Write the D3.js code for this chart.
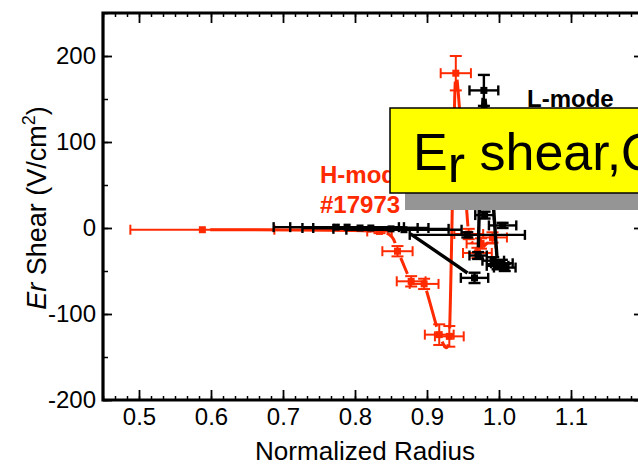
<!DOCTYPE html>
<html><head><meta charset="utf-8">
<script src="https://cdn.jsdelivr.net/npm/d3@7"></script>
<style>
body{margin:0;background:#fff;}
svg{display:block;font-family:"Liberation Sans",Arial,Helvetica,sans-serif;}
</style>
</head><body>
<svg id="chart" width="638" height="465"></svg>
<script>
// ---- data ----
const xTicks = [0.5, 0.6, 0.7, 0.8, 0.9, 1.0, 1.1];
const xTickLabels = ["0.5", "0.6", "0.7", "0.8", "0.9", "1.0", "1.1"];
const yTicks = [-200, -100, 0, 100, 200];
const yTickLabels = ["-200", "-100", "0", "100", "200"];

// H-mode #17973 (red), profile in path order
const hX    = [0.588, 0.834, 0.859, 0.878, 0.896, 0.917, 0.931, 0.940, 0.958, 0.975, 0.970, 0.991];
const hY    = [-2, -4, -27, -62, -65, -124, -126, 180, -7, -18, -29, -11];
const hXErr = [0.100, 0.017, 0.021, 0.020, 0.020, 0.020, 0.020, 0.021, 0.020, 0.020, 0.020, 0.020];
const hYErr = [0, 2, 6, 6, 6, 12, 12, 20, 6, 6, 6, 6];

// L-mode (black), inner profile in path order
const lX    = [0.774, 0.789, 0.807, 0.822, 0.850, 0.868, 0.966];
const lY    = [1, 1, 0, 0, -1, -2, -58];
const lXErr = [0.087, 0.079, 0.080, 0.080, 0.080, 0.080, 0.019];
const lYErr = [0, 0, 0, 0, 0, 0, 6];
// L-mode (black), edge profile in path order
const lXb    = [0.998, 0.979, 0.971];
const lYb    = [-44, 160, -32];
const lXErrb = [0.015, 0.020, 0.012];
const lYErrb = [4, 18, 4];
// L-mode (black), further points without connecting line
const lX2    = [0.956, 0.992, 1.004, 1.008, 0.980, 1.005];
const lY2    = [-8, -38, -41, -46, 15, 3];
const lXErr2 = [0.080, 0.015, 0.015, 0.015, 0.013, 0.019];
const lYErr2 = [3, 4, 4, 4, 4, 3];

const xLabel = "Normalized Radius";
const lModeLabel = "L-mode";
const hModeLabel = ["H-mode", "#17973"];

// ---- layout ----
const svg = d3.select("#chart");
const L = 103, R = 643, T = 13, B = 400;
const x = d3.scaleLinear().domain([0.45, 1.2]).range([L, R]);
const y = d3.scaleLinear().domain([-200, 250]).range([B, T]);

const minorX = d3.range(0, 46).map(i => 0.45 + i * (0.1 / 6)).filter(v => v < 1.2);
const minorY = d3.range(-200, 251, 50);

function styleAxis(g, w) {
  g.select(".domain").remove();
  g.selectAll(".tick line").attr("stroke", "#000").attr("stroke-width", w);
}
const FONT = "Liberation Sans, Arial, sans-serif";

// bottom axis
svg.append("g").attr("transform", `translate(0,${B})`)
  .call(d3.axisBottom(x).tickValues(minorX).tickSize(-4).tickFormat(""))
  .call(g => styleAxis(g, 1.5));
svg.append("g").attr("transform", `translate(0,${B})`)
  .call(d3.axisBottom(x).tickValues(xTicks).tickSize(-10).tickPadding(8)
    .tickFormat((d, i) => xTickLabels[i]))
  .call(g => styleAxis(g, 1.8))
  .call(g => g.selectAll("text").attr("font-size", 24).attr("fill", "#000").attr("font-family", FONT));
// top axis
svg.append("g").attr("transform", `translate(0,${T})`)
  .call(d3.axisTop(x).tickValues(minorX).tickSize(-4).tickFormat(""))
  .call(g => styleAxis(g, 1.5));
svg.append("g").attr("transform", `translate(0,${T})`)
  .call(d3.axisTop(x).tickValues(xTicks).tickSize(-10).tickFormat(""))
  .call(g => styleAxis(g, 1.8));
// left axis
svg.append("g").attr("transform", `translate(${L},0)`)
  .call(d3.axisLeft(y).tickValues(minorY).tickSize(-5).tickFormat(""))
  .call(g => styleAxis(g, 1.5));
svg.append("g").attr("transform", `translate(${L},0)`)
  .call(d3.axisLeft(y).tickValues(yTicks).tickSize(-9).tickPadding(7)
    .tickFormat((d, i) => yTickLabels[i]))
  .call(g => styleAxis(g, 1.8))
  .call(g => g.selectAll("text").attr("font-size", 24).attr("fill", "#000").attr("font-family", FONT));
// right axis
svg.append("g").attr("transform", `translate(${R},0)`)
  .call(d3.axisRight(y).tickValues(minorY).tickSize(-5).tickFormat(""))
  .call(g => styleAxis(g, 1.5));
svg.append("g").attr("transform", `translate(${R},0)`)
  .call(d3.axisRight(y).tickValues(yTicks).tickSize(-9).tickFormat(""))
  .call(g => styleAxis(g, 1.8));

// frame
svg.append("path")
  .attr("d", `M${L},${T}H${R}V${B}H${L}Z`)
  .attr("fill", "none").attr("stroke", "#000").attr("stroke-width", 3.2);

// axis titles
svg.append("text").attr("x", 365).attr("y", 460).attr("text-anchor", "middle")
  .attr("font-size", 26).attr("textLength", 220).attr("lengthAdjust", "spacingAndGlyphs")
  .text(xLabel);
const yl = svg.append("text").attr("transform", "translate(46,208) rotate(-90)")
  .attr("text-anchor", "middle").attr("font-size", 27);
yl.append("tspan").attr("font-style", "italic").text("Er");
yl.append("tspan").text(" Shear (V/cm");
yl.append("tspan").attr("dy", -11).attr("font-size", 18).text("2");
yl.append("tspan").attr("dy", 11).text(")");

// ---- series drawing ----
const lineGen = d3.line().curve(d3.curveCardinal.tension(0.45));

function drawProfile(xs, ys, color, lw, gap) {
  const pts = xs.map((v, i) => [x(v), y(ys[i])]);
  const path = svg.append("path").attr("d", lineGen(pts))
    .attr("fill", "none").attr("stroke", color).attr("stroke-width", lw);
  // path length at each data point, then leave gaps around the markers
  const node = path.node(), total = node.getTotalLength();
  const lens = [];
  let start = 0;
  pts.forEach(p => {
    let best = start, bd = Infinity;
    for (let s = start; s <= total; s += 0.5) {
      const q = node.getPointAtLength(s);
      const d = Math.hypot(q.x - p[0], q.y - p[1]);
      if (d < bd) { bd = d; best = s; }
      if (d < 0.8) break;
    }
    lens.push(best); start = best;
  });
  const dash = [];
  let pos = 0;
  for (let i = 0; i < lens.length - 1; i++) {
    const a = lens[i] + gap, b = lens[i + 1] - gap;
    if (b > a) { dash.push(a - pos, b - a); pos = b; }
  }
  dash.push(total - pos + 10, 0);
  path.attr("stroke-dasharray", "0 " + dash.join(" "));
}

function drawPoints(xs, ys, xe, ye, color, ew) {
  const g = svg.append("g");
  xs.forEach((v, i) => {
    const cx = x(v), cy = y(ys[i]);
    const xl = x(v - xe[i]), xr = x(v + xe[i]);
    g.append("line").attr("x1", xl).attr("x2", xr).attr("y1", cy).attr("y2", cy)
      .attr("stroke", color).attr("stroke-width", ew);
    [xl, xr].forEach(cxp => g.append("line").attr("x1", cxp).attr("x2", cxp)
      .attr("y1", cy - 5).attr("y2", cy + 5).attr("stroke", color).attr("stroke-width", ew));
    if (ye[i] > 0) {
      const yt = y(ys[i] + ye[i]), yb = y(ys[i] - ye[i]);
      g.append("line").attr("x1", cx).attr("x2", cx).attr("y1", yt).attr("y2", yb)
        .attr("stroke", color).attr("stroke-width", ew);
      [yt, yb].forEach(cyp => g.append("line").attr("x1", cx - 6).attr("x2", cx + 6)
        .attr("y1", cyp).attr("y2", cyp).attr("stroke", color).attr("stroke-width", ew));
    }
    g.append("rect").attr("x", cx - 3.5).attr("y", cy - 3.5).attr("width", 7).attr("height", 7)
      .attr("fill", color);
  });
}

const RED = "#ff2a00";
drawProfile(hX, hY, RED, 3, 8);
drawPoints(hX, hY, hXErr, hYErr, RED, 2);
drawProfile(lX, lY, "#000", 3.4, 8);
drawProfile(lXb, lYb, "#000", 3.4, 8);
drawPoints(lX, lY, lXErr, lYErr, "#000", 2.4);
drawPoints(lXb, lYb, lXErrb, lYErrb, "#000", 2.4);
drawPoints(lX2, lY2, lXErr2, lYErr2, "#000", 2.4);

// labels
svg.append("text").attr("x", 527).attr("y", 107).attr("font-size", 24)
  .attr("font-weight", "bold").attr("fill", "#000").text(lModeLabel);
svg.append("text").attr("x", 320).attr("y", 183).attr("font-size", 24)
  .attr("font-weight", "bold").attr("fill", RED).text(hModeLabel[0]);
svg.append("text").attr("x", 320).attr("y", 213).attr("font-size", 24)
  .attr("font-weight", "bold").attr("fill", RED).text(hModeLabel[1]);

// callout box with shadow
svg.append("rect").attr("x", 405).attr("y", 125).attr("width", 300).attr("height", 85)
  .attr("fill", "#959595");
svg.append("rect").attr("x", 390).attr("y", 108).attr("width", 300).attr("height", 85)
  .attr("fill", "#ffff00").attr("stroke", "#000").attr("stroke-width", 1.5);
const bt = svg.append("text").attr("x", 413).attr("y", 170).attr("font-size", 52).attr("fill", "#000");
bt.append("tspan").text("E");
bt.append("tspan").attr("dy", 12).text("r");
bt.append("tspan").attr("dy", -12).text(" shear,Q");
</script>
</body></html>
